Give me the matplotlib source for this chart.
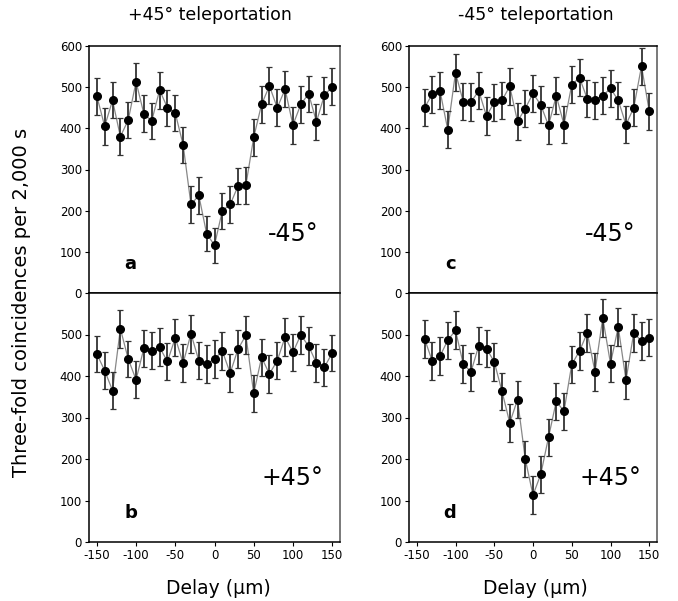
import matplotlib
matplotlib.use("Agg")
import matplotlib.pyplot as plt

# delay positions (um)
delay_left = [-150, -140, -130, -120, -110, -100, -90, -80, -70, -60, -50, -40, -30, -20, -10,
              0, 10, 20, 30, 40, 50, 60, 70, 80, 90, 100, 110, 120, 130, 140, 150]
delay_right = delay_left[1:]

# three-fold coincidences per 2,000 s
counts_a = [478, 405, 468, 380, 420, 513, 435, 418, 493, 450, 437, 360, 215, 237, 144,
            116, 200, 215, 260, 262, 378, 458, 503, 450, 495, 408, 458, 484, 416, 480, 501]
counts_b = [453, 413, 365, 514, 441, 391, 467, 461, 469, 435, 492, 431, 502, 437, 429,
            441, 460, 407, 465, 498, 358, 445, 405, 437, 494, 457, 499, 472, 431, 421, 455]
counts_c = [450, 483, 491, 397, 535, 465, 464, 491, 430, 463, 468, 502, 417, 448, 485,
            457, 407, 479, 409, 506, 523, 472, 468, 479, 497, 468, 409, 450, 551, 442]
counts_d = [490, 436, 448, 486, 510, 429, 410, 473, 466, 434, 363, 287, 343, 200, 113,
            163, 252, 339, 315, 428, 460, 504, 410, 540, 430, 518, 390, 504, 484, 492]

err_a = [45, 45, 44, 44, 44, 46, 45, 44, 45, 44, 44, 44, 45, 44, 43,
         43, 44, 44, 44, 45, 44, 45, 45, 45, 44, 45, 45, 44, 44, 44, 45]
err_b = [44, 44, 45, 46, 44, 44, 45, 45, 46, 45, 45, 45, 46, 45, 45,
         45, 45, 45, 45, 46, 45, 45, 45, 45, 45, 45, 45, 45, 45, 45, 44]
err_c = [45, 45, 45, 45, 45, 45, 45, 45, 45, 45, 45, 45, 45, 45, 45,
         45, 45, 45, 45, 45, 45, 45, 45, 45, 45, 45, 45, 45, 45, 45]
err_d = [46, 45, 45, 45, 46, 45, 45, 45, 45, 45, 45, 45, 45, 44, 45,
         45, 45, 45, 45, 45, 45, 45, 45, 45, 45, 45, 45, 45, 45, 45]

col_titles = ["+45\u00b0 teleportation", "-45\u00b0 teleportation"]
panel_letters = ["a", "b", "c", "d"]
angle_labels = ["-45\u00b0", "+45\u00b0", "-45\u00b0", "+45\u00b0"]
x_ticks = [-150, -100, -50, 0, 50, 100, 150]

plt.rcParams["font.family"] = ["DejaVu Sans"]
plt.rcParams["axes.unicode_minus"] = False

fig = plt.figure(figsize=(6.78, 6.01), dpi=100)

W, H = 678.0, 601.0
def box(x0, y0, x1, y1):
    return [x0 / W, 1 - y1 / H, (x1 - x0) / W, (y1 - y0) / H]

axes = [
    fig.add_axes(box(89, 46, 340, 293)),
    fig.add_axes(box(89, 293, 340, 542)),
    fig.add_axes(box(409, 46, 657, 293)),
    fig.add_axes(box(409, 293, 657, 542)),
]
data = [
    (delay_left, counts_a, err_a),
    (delay_left, counts_b, err_b),
    (delay_right, counts_c, err_c),
    (delay_right, counts_d, err_d),
]

for i, ax in enumerate(axes):
    x, y, e = data[i]
    ax.plot(x, y, color="#888888", lw=0.9, zorder=2)
    ax.errorbar(x, y, yerr=e, fmt="none", ecolor="#333333", elinewidth=1.3,
                capsize=2, capthick=0.9, zorder=3)
    ax.plot(x, y, "o", color="black", ms=5.5, zorder=4)
    ax.set_xlim(-160, 160)
    ax.set_ylim(0, 600)
    ax.set_xticks(x_ticks)
    top = i in (0, 2)
    if top:
        ax.set_yticks([0, 100, 200, 300, 400, 500, 600])
        ax.tick_params(axis="x", labelbottom=False)
    else:
        ax.set_yticks([0, 100, 200, 300, 400, 500])
    ax.tick_params(direction="out", length=3, width=0.8, labelsize=8.5, pad=2,
                   colors="black")
    for s in ax.spines.values():
        s.set_linewidth(1.1)
    ax.spines["right"].set_color("#555555")
    ax.text(-107, 70, panel_letters[i], fontsize=13, fontweight="bold",
            ha="center", va="center")
    ax.text(100, 143 if top else 155, angle_labels[i], fontsize=17,
            ha="center", va="center")

for j, t in enumerate(col_titles):
    fig.text((210 if j == 0 else 536) / W, 1 - 15 / H, t, fontsize=12.5,
             ha="center", va="center")
    fig.text((218 if j == 0 else 535) / W, 1 - 588 / H, "Delay (\u00b5m)",
             fontsize=13.5, ha="center", va="center")

fig.text(22 / W, 1 - 302 / H, "Three-fold coincidences per 2,000 s",
         fontsize=14, rotation=90, ha="center", va="center")

fig.savefig("out.png", dpi=100)
